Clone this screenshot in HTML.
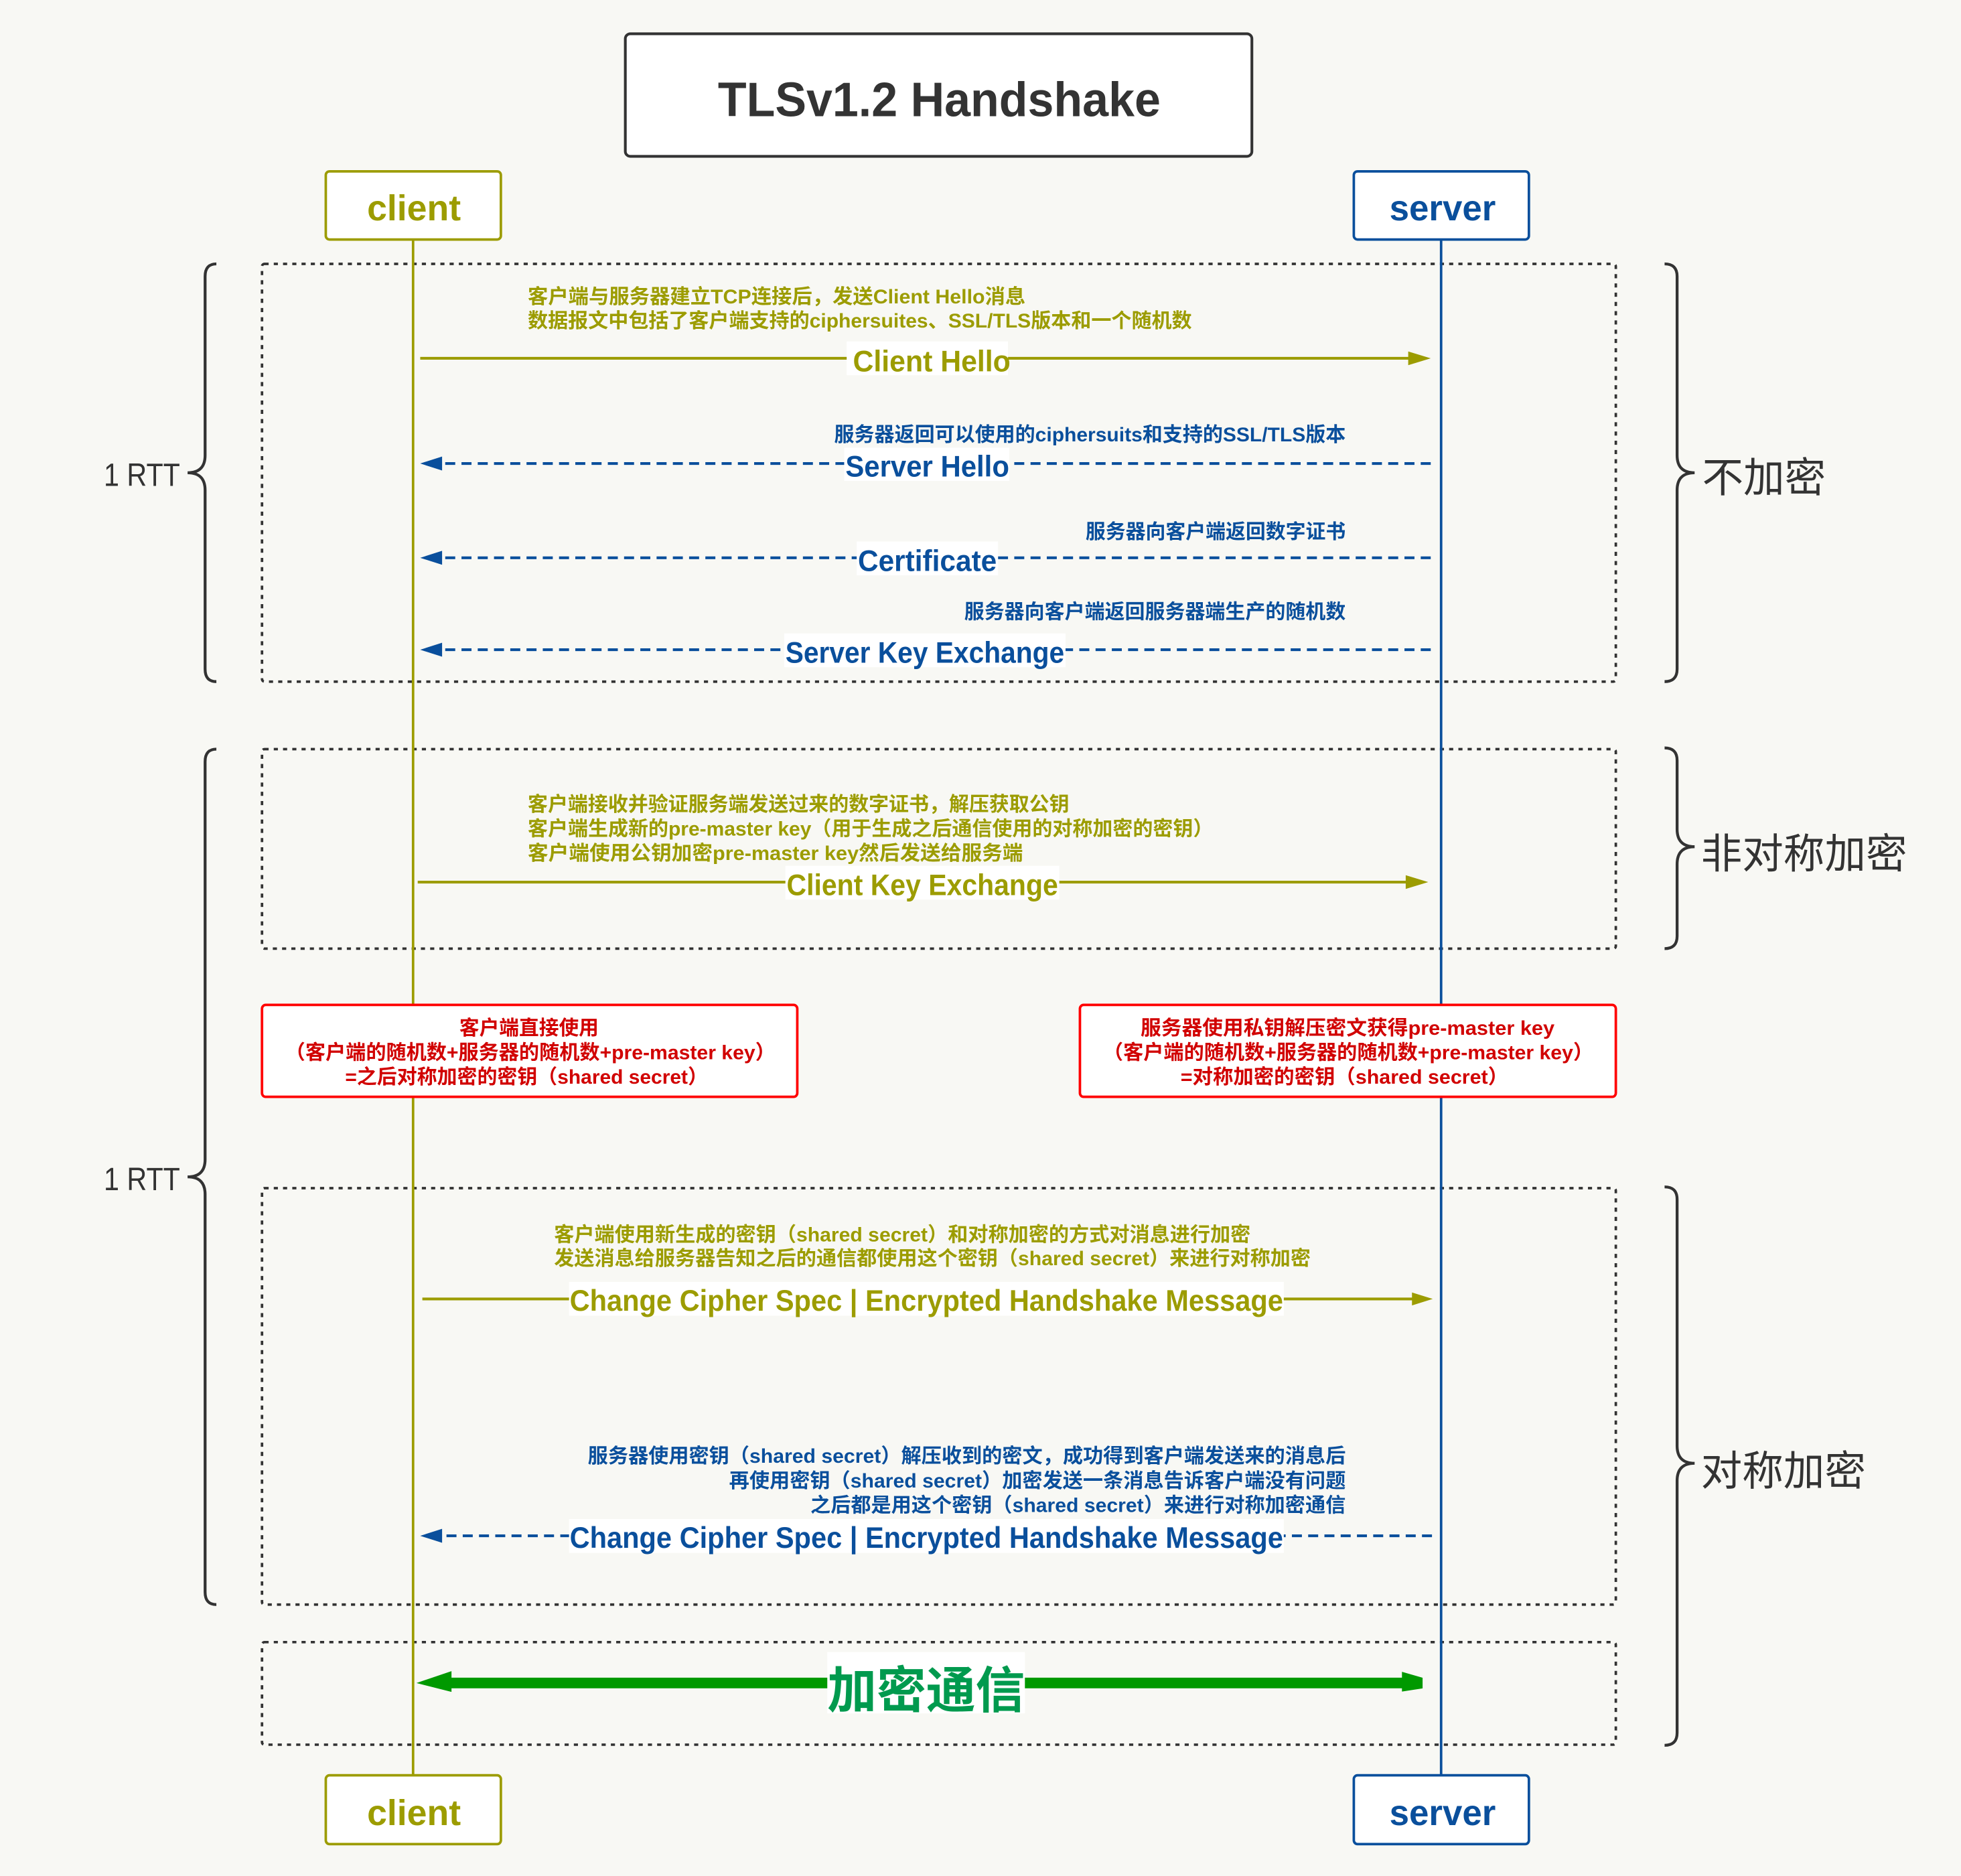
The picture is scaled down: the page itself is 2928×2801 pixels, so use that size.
<!DOCTYPE html>
<html>
<head>
<meta charset="utf-8">
<style>
html,body{margin:0;padding:0;background:#f8f8f4;}
svg{display:block;}
.b{font-family:"Liberation Sans","Noto Sans CJK SC",sans-serif;font-weight:bold;}
.n{font-family:"Liberation Sans","Noto Sans CJK SC",sans-serif;font-weight:normal;}
.o{fill:#9c9c00;}
.bl{fill:#0a4f9c;}
.r{fill:#d10000;}
.g{fill:#009a4e;}
.k{fill:#333333;}
</style>
</head>
<body>
<svg xmlns="http://www.w3.org/2000/svg" width="2928" height="2801" viewBox="0 0 1568 1500" preserveAspectRatio="none">
<rect x="0" y="0" width="1568" height="1500" fill="#f8f8f4"/>

<!-- Title -->
<rect x="500" y="27" width="501" height="98" rx="4" fill="#ffffff" stroke="#333333" stroke-width="2.2"/>
<text class="b k" x="574" y="92.8" font-size="39" textLength="354" lengthAdjust="spacingAndGlyphs">TLSv1.2 Handshake</text>

<!-- dotted section boxes -->
<g fill="none" stroke="#333333" stroke-width="2" stroke-dasharray="3.3 4.1">
<rect x="209.5" y="211" width="1082.5" height="334" rx="2"/>
<rect x="209.5" y="599" width="1082.5" height="159.5" rx="2"/>
<rect x="209.5" y="950" width="1082.5" height="333" rx="2"/>
<rect x="209.5" y="1313" width="1082.5" height="82" rx="2"/>
</g>

<!-- braces -->
<g fill="none" stroke="#333333" stroke-width="2.3">
<path d="M173,211 Q164,211 164,221 L164,364 Q164,378 150,378 Q164,378 164,392 L164,535 Q164,545 173,545"/>
<path d="M173,599 Q164,599 164,609 L164,927 Q164,941 150,941 Q164,941 164,955 L164,1273 Q164,1283 173,1283"/>
<path d="M1331,211 Q1341,211 1341,221 L1341,364 Q1341,378 1355,378 Q1341,378 1341,392 L1341,535 Q1341,545 1331,545"/>
<path d="M1331,598 Q1341,598 1341,608 L1341,663 Q1341,677 1355,677 Q1341,677 1341,691 L1341,748.5 Q1341,758.5 1331,758.5"/>
<path d="M1331,949 Q1341,949 1341,959 L1341,1156 Q1341,1170 1355,1170 Q1341,1170 1341,1184 L1341,1385.5 Q1341,1395.5 1331,1395.5"/>
</g>
<text class="n k" x="83" y="388.4" font-size="26" textLength="61" lengthAdjust="spacingAndGlyphs">1 RTT</text>
<text class="n k" x="83" y="951.5" font-size="26" textLength="61" lengthAdjust="spacingAndGlyphs">1 RTT</text>
<text class="n k" x="1361" y="393.4" font-size="33">不加密</text>
<text class="n k" x="1360" y="694" font-size="33">非对称加密</text>
<text class="n k" x="1360" y="1187.5" font-size="33">对称加密</text>

<!-- lifelines -->
<line x1="330.3" y1="191.5" x2="330.3" y2="1419.5" stroke="#9c9c00" stroke-width="2"/>
<line x1="1152.3" y1="191.5" x2="1152.3" y2="1419.5" stroke="#0a4f9c" stroke-width="2"/>

<!-- 1 Client Hello -->
<text class="b o" x="422" y="242.5" font-size="16" textLength="398" lengthAdjust="spacingAndGlyphs">客户端与服务器建立TCP连接后，发送Client Hello消息</text>
<text class="b o" x="422" y="262" font-size="16" textLength="531" lengthAdjust="spacingAndGlyphs">数据报文中包括了客户端支持的ciphersuites、SSL/TLS版本和一个随机数</text>
<line x1="336" y1="286.5" x2="1128" y2="286.5" stroke="#9c9c00" stroke-width="2.2"/>
<polygon points="1144,286.5 1126,281 1126,292" fill="#9c9c00"/>
<rect x="677" y="273" width="129" height="27" fill="#ffffff"/>
<text class="b o" x="682" y="297" font-size="24" textLength="126" lengthAdjust="spacingAndGlyphs">Client Hello</text>

<!-- 2 Server Hello -->
<text class="b bl" x="1076" y="353" font-size="16" text-anchor="end" textLength="409" lengthAdjust="spacingAndGlyphs">服务器返回可以使用的ciphersuits和支持的SSL/TLS版本</text>
<line x1="1144" y1="370.6" x2="352" y2="370.6" stroke="#0a4f9c" stroke-width="2.2" stroke-dasharray="8 5"/>
<polygon points="336,370.6 353.5,365 353.5,376.2" fill="#0a4f9c"/>
<rect x="675" y="358" width="132" height="26.5" fill="#ffffff"/>
<text class="b bl" x="676" y="381" font-size="24" textLength="131" lengthAdjust="spacingAndGlyphs">Server Hello</text>

<!-- 3 Certificate -->
<text class="b bl" x="1076" y="430.5" font-size="16" text-anchor="end" textLength="208" lengthAdjust="spacingAndGlyphs">服务器向客户端返回数字证书</text>
<line x1="1144" y1="446" x2="352" y2="446" stroke="#0a4f9c" stroke-width="2.2" stroke-dasharray="8 5"/>
<polygon points="336,446 353.5,440.4 353.5,451.6" fill="#0a4f9c"/>
<rect x="685" y="433" width="113" height="27" fill="#ffffff"/>
<text class="b bl" x="686" y="456.5" font-size="24" textLength="111" lengthAdjust="spacingAndGlyphs">Certificate</text>

<!-- 4 Server Key Exchange -->
<text class="b bl" x="1076" y="494.5" font-size="16" text-anchor="end" textLength="305" lengthAdjust="spacingAndGlyphs">服务器向客户端返回服务器端生产的随机数</text>
<line x1="1144" y1="519.5" x2="352" y2="519.5" stroke="#0a4f9c" stroke-width="2.2" stroke-dasharray="8 5"/>
<polygon points="336,519.5 353.5,513.9 353.5,525.1" fill="#0a4f9c"/>
<rect x="627" y="506.5" width="225" height="27" fill="#ffffff"/>
<text class="b bl" x="628" y="530" font-size="24" textLength="223" lengthAdjust="spacingAndGlyphs">Server Key Exchange</text>

<!-- 5 Client Key Exchange -->
<text class="b o" x="422" y="648.5" font-size="16" textLength="433" lengthAdjust="spacingAndGlyphs">客户端接收并验证服务端发送过来的数字证书，解压获取公钥</text>
<text class="b o" x="422" y="668" font-size="16" textLength="548" lengthAdjust="spacingAndGlyphs">客户端生成新的pre-master key（用于生成之后通信使用的对称加密的密钥）</text>
<text class="b o" x="422" y="687.5" font-size="16" textLength="396" lengthAdjust="spacingAndGlyphs">客户端使用公钥加密pre-master key然后发送给服务端</text>
<line x1="334" y1="705.3" x2="1126" y2="705.3" stroke="#9c9c00" stroke-width="2.2"/>
<polygon points="1142,705.3 1124,699.8 1124,710.8" fill="#9c9c00"/>
<rect x="628" y="692.3" width="219" height="27" fill="#ffffff"/>
<text class="b o" x="629" y="715.8" font-size="24" textLength="217" lengthAdjust="spacingAndGlyphs">Client Key Exchange</text>

<!-- red boxes -->
<rect x="209.5" y="803.5" width="428" height="73.5" rx="3" fill="#ffffff" stroke="#ff0000" stroke-width="2"/>
<text class="b r" x="423" y="827.5" font-size="16" text-anchor="middle" textLength="111.4" lengthAdjust="spacingAndGlyphs">客户端直接使用</text>
<text class="b r" x="424" y="847" font-size="16" text-anchor="middle" textLength="392" lengthAdjust="spacingAndGlyphs">（客户端的随机数+服务器的随机数+pre-master key）</text>
<text class="b r" x="421" y="866.5" font-size="16" text-anchor="middle" textLength="290" lengthAdjust="spacingAndGlyphs">=之后对称加密的密钥（shared secret）</text>

<rect x="863.5" y="803.5" width="428.5" height="73.5" rx="3" fill="#ffffff" stroke="#ff0000" stroke-width="2"/>
<text class="b r" x="1077.5" y="827.5" font-size="16" text-anchor="middle" textLength="331" lengthAdjust="spacingAndGlyphs">服务器使用私钥解压密文获得pre-master key</text>
<text class="b r" x="1078" y="847" font-size="16" text-anchor="middle" textLength="392" lengthAdjust="spacingAndGlyphs">（客户端的随机数+服务器的随机数+pre-master key）</text>
<text class="b r" x="1075" y="866.5" font-size="16" text-anchor="middle" textLength="262" lengthAdjust="spacingAndGlyphs">=对称加密的密钥（shared secret）</text>

<!-- 6 Change Cipher Spec (client) -->
<text class="b o" x="443" y="992.5" font-size="16" textLength="557" lengthAdjust="spacingAndGlyphs">客户端使用新生成的密钥（shared secret）和对称加密的方式对消息进行加密</text>
<text class="b o" x="443" y="1011.5" font-size="16" textLength="605" lengthAdjust="spacingAndGlyphs">发送消息给服务器告知之后的通信都使用这个密钥（shared secret）来进行对称加密</text>
<line x1="337.7" y1="1038.6" x2="1131" y2="1038.6" stroke="#9c9c00" stroke-width="2.2"/>
<polygon points="1145.6,1038.6 1129,1033.4 1129,1043.8" fill="#9c9c00"/>
<rect x="455" y="1025" width="571.5" height="27" fill="#ffffff"/>
<text class="b o" x="455.5" y="1048" font-size="24" textLength="570.5" lengthAdjust="spacingAndGlyphs">Change Cipher Spec | Encrypted Handshake Message</text>

<!-- 7 Change Cipher Spec (server) -->
<text class="b bl" x="1076" y="1169.5" font-size="16" text-anchor="end" textLength="606" lengthAdjust="spacingAndGlyphs">服务器使用密钥（shared secret）解压收到的密文，成功得到客户端发送来的消息后</text>
<text class="b bl" x="1076" y="1189.5" font-size="16" text-anchor="end" textLength="493" lengthAdjust="spacingAndGlyphs">再使用密钥（shared secret）加密发送一条消息告诉客户端没有问题</text>
<text class="b bl" x="1076" y="1209" font-size="16" text-anchor="end" textLength="428" lengthAdjust="spacingAndGlyphs">之后都是用这个密钥（shared secret）来进行对称加密通信</text>
<line x1="1145" y1="1228" x2="352" y2="1228" stroke="#0a4f9c" stroke-width="2.2" stroke-dasharray="8 5"/>
<polygon points="336,1228 353.5,1222.4 353.5,1233.6" fill="#0a4f9c"/>
<rect x="455" y="1214.6" width="571.5" height="27" fill="#ffffff"/>
<text class="b bl" x="455.5" y="1237.5" font-size="24" textLength="570.5" lengthAdjust="spacingAndGlyphs">Change Cipher Spec | Encrypted Handshake Message</text>

<!-- 8 encrypted communication -->
<line x1="358" y1="1345.7" x2="1124" y2="1345.7" stroke="#009900" stroke-width="8.5"/>
<polygon points="333,1345.7 361,1336.2 361,1352.8" fill="#009900"/>
<polygon points="1121,1336.7 1137.5,1341.5 1137.5,1350 1121,1352.5" fill="#009900"/>
<rect x="661.5" y="1321" width="158" height="49" fill="#ffffff"/>
<text class="b g" x="740.5" y="1365.5" font-size="40" text-anchor="middle" textLength="158" lengthAdjust="spacingAndGlyphs">加密通信</text>

<!-- actor boxes -->
<rect x="260.5" y="137" width="140" height="54.5" rx="3" fill="#ffffff" stroke="#9c9c00" stroke-width="2"/>
<text class="b o" x="331" y="176.3" font-size="29" text-anchor="middle" textLength="75" lengthAdjust="spacingAndGlyphs">client</text>
<rect x="1082.5" y="137" width="140" height="54.5" rx="3" fill="#ffffff" stroke="#0a4f9c" stroke-width="2"/>
<text class="b bl" x="1153.5" y="176.3" font-size="29" text-anchor="middle" textLength="85" lengthAdjust="spacingAndGlyphs">server</text>

<rect x="260.5" y="1419.5" width="140" height="55" rx="3" fill="#ffffff" stroke="#9c9c00" stroke-width="2"/>
<text class="b o" x="331" y="1459.4" font-size="29" text-anchor="middle" textLength="75" lengthAdjust="spacingAndGlyphs">client</text>
<rect x="1082.5" y="1419.5" width="140" height="55" rx="3" fill="#ffffff" stroke="#0a4f9c" stroke-width="2"/>
<text class="b bl" x="1153.5" y="1459.4" font-size="29" text-anchor="middle" textLength="85" lengthAdjust="spacingAndGlyphs">server</text>
</svg>
</body>
</html>
